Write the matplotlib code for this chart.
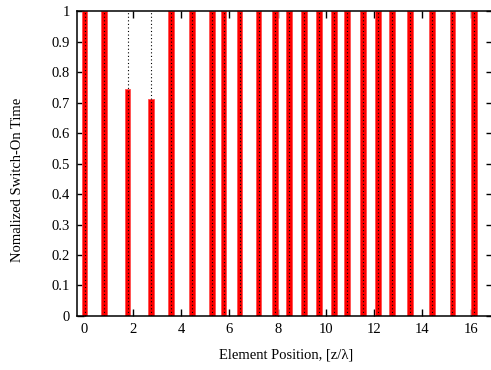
import matplotlib
matplotlib.use('Agg')
import matplotlib.pyplot as plt

# element positions along the array and their normalized switch-on times
positions = [0.0, 0.82, 1.78, 2.76, 3.59, 4.46, 5.28, 5.76, 6.42, 7.21, 7.88,
             8.46, 9.08, 9.70, 10.32, 10.88, 11.53, 12.15, 12.75, 13.48,
             14.38, 15.24, 16.15]
switch_on = [1, 1, 0.744, 0.711, 1, 1, 1, 1, 1, 1, 1,
             1, 1, 1, 1, 1, 1, 1, 1, 1,
             1, 1, 1]
full_scale = [1] * len(positions)

xticks = [0, 2, 4, 6, 8, 10, 12, 14, 16]
yticks = [0, 0.1, 0.2, 0.3, 0.4, 0.5, 0.6, 0.7, 0.8, 0.9, 1]

plt.rcParams['font.family'] = ['Liberation Serif', 'DejaVu Serif']
plt.rcParams['font.size'] = 10.5

fig = plt.figure(figsize=(4.91, 3.70), dpi=100)
ax = fig.add_axes([0.157, 0.146, 0.847, 0.824])

ax.bar(positions, switch_on, width=0.24, color='#ff0000',
       edgecolor='#ff5050', linewidth=0.6, zorder=2)
ax.vlines(positions, 0, full_scale, colors='black', linewidth=0.8,
          linestyles=(0, (1, 2.2)), zorder=3)

ax.set_xlim(-0.31, 16.92)
ax.set_ylim(0, 1)
ax.set_xticks(xticks)
ax.set_yticks(yticks)
ax.set_yticklabels(['0', '0.1', '0.2', '0.3', '0.4', '0.5', '0.6', '0.7',
                    '0.8', '0.9', '1'])
ax.tick_params(direction='in', top=True, right=True, length=5, width=1,
               labelsize=10.5, pad=5)
for s in ax.spines.values():
    s.set_linewidth(1.1)

ax.set_xlabel('Element Position, [z/\u03bb]', fontsize=10.5)
ax.xaxis.set_label_coords(0.503, -0.108)
ax.set_ylabel('Nomalized Switch-On Time', fontsize=10.5)
ax.yaxis.set_label_coords(-0.127, 0.446)

fig.savefig('out.png', dpi=100)
